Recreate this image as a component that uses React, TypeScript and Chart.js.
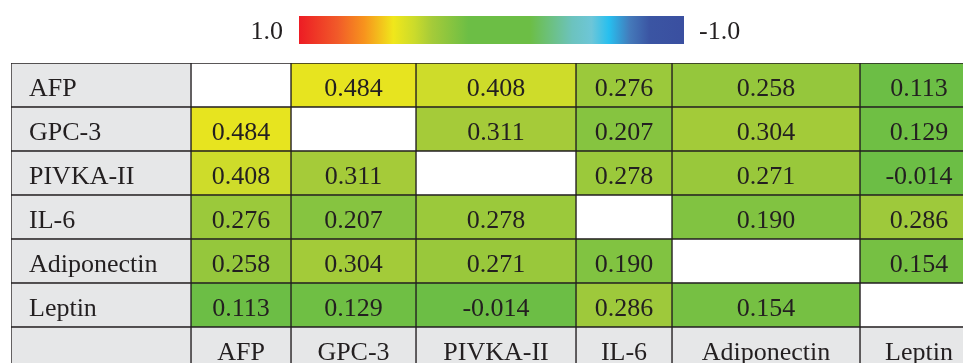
import { useEffect, useRef } from 'react';
import { Chart, registerables } from 'chart.js';

Chart.register(...registerables);

// ---- data ----
const markers = ['AFP', 'GPC-3', 'PIVKA-II', 'IL-6', 'Adiponectin', 'Leptin'];
const rowAFP = [null, 0.484, 0.408, 0.276, 0.258, 0.113];
const rowGPC3 = [0.484, null, 0.311, 0.207, 0.304, 0.129];
const rowPIVKA = [0.408, 0.311, null, 0.278, 0.271, -0.014];
const rowIL6 = [0.276, 0.207, 0.278, null, 0.19, 0.286];
const rowAdipo = [0.258, 0.304, 0.271, 0.19, null, 0.154];
const rowLeptin = [0.113, 0.129, -0.014, 0.286, 0.154, null];
const matrix: (number | null)[][] = [rowAFP, rowGPC3, rowPIVKA, rowIL6, rowAdipo, rowLeptin];
const scaleMax = 1.0;
const scaleMin = -1.0;
const scaleLabels = ['1.0', '-1.0'];

// ---- layout / style ----
const COL_WIDTHS = [180, 100, 125, 160, 96, 188, 118];
const EDGES = COL_WIDTHS.reduce((acc: number[], w) => { acc.push(acc[acc.length - 1] + w); return acc; }, [0]);
const HEADER_BG = '#E6E7E8';
const LINE = '#231F20';
const TEXT = '#231F20';
const FONT = "26px 'Liberation Serif'";
const STOPS: [number, string][] = [
  [0, '#ED1C24'],
  [0.1, '#F15A29'],
  [0.17, '#F7941D'],
  [0.245, '#F0E71B'],
  [0.3, '#CBDB2B'],
  [0.345, '#A5CB39'],
  [0.44, '#6CBE45'],
  [0.6, '#6CBE45'],
  [0.71, '#6CC3BE'],
  [0.76, '#6DC6D8'],
  [0.805, '#27BFEF'],
  [0.86, '#4479BA'],
  [0.91, '#3B55A3'],
  [1, '#3A4FA0'],
];

function hex(c: string) {
  return [1, 3, 5].map((i) => parseInt(c.slice(i, i + 2), 16));
}
function colorAt(f: number) {
  f = Math.max(0, Math.min(1, f));
  for (let i = 1; i < STOPS.length; i++) {
    const [f1, c1] = STOPS[i];
    const [f0, c0] = STOPS[i - 1];
    if (f <= f1) {
      const t = f1 === f0 ? 0 : (f - f0) / (f1 - f0);
      const a = hex(c0), b = hex(c1);
      const m = a.map((v, k) => Math.round(v + (b[k] - v) * t));
      return `rgb(${m[0]},${m[1]},${m[2]})`;
    }
  }
  return STOPS[STOPS.length - 1][1];
}
function valueColor(v: number) {
  return colorAt((scaleMax - v) / (scaleMax - scaleMin));
}

const rowKeys = [...markers, 'header'];

function buildDatasets() {
  const sets: any[] = [];
  // row-header column
  sets.push({
    data: rowKeys.map(() => [EDGES[0], EDGES[1]]),
    backgroundColor: rowKeys.map(() => HEADER_BG),
  });
  markers.forEach((_, j) => {
    sets.push({
      data: rowKeys.map(() => [EDGES[j + 1], EDGES[j + 2]]),
      backgroundColor: rowKeys.map((_, i) => {
        if (i >= markers.length) return HEADER_BG;
        const v = matrix[i][j];
        return v == null ? '#FFFFFF' : valueColor(v);
      }),
    });
  });
  return sets.map((s) => ({
    ...s,
    borderColor: LINE,
    borderWidth: 1,
    borderSkipped: false,
    barPercentage: 1,
    categoryPercentage: 1,
    grouped: false,
  }));
}

const cellText = {
  id: 'cellText',
  afterDatasetsDraw(chart: any) {
    const ctx = chart.ctx;
    ctx.save();
    ctx.font = FONT;
    ctx.fillStyle = TEXT;
    ctx.textBaseline = 'alphabetic';
    chart.data.datasets.forEach((_: any, di: number) => {
      const meta = chart.getDatasetMeta(di);
      meta.data.forEach((el: any, ri: number) => {
        const { x, y, base } = el.getProps(['x', 'y', 'base'], true);
        let text = '';
        if (di === 0) {
          text = ri < markers.length ? markers[ri] : '';
          ctx.textAlign = 'left';
          ctx.fillText(text, Math.min(x, base) + 18, y + 11);
        } else {
          if (ri < markers.length) {
            const v = matrix[ri][di - 1];
            text = v == null ? '' : v.toFixed(3);
          } else {
            text = markers[di - 1];
          }
          ctx.textAlign = 'center';
          ctx.fillText(text, (x + base) / 2, y + 11);
        }
      });
    });
    ctx.restore();
  },
};

const colorBar = {
  id: 'colorBar',
  afterDraw(chart: any) {
    const ctx = chart.ctx;
    const x0 = 299, x1 = 684, y0 = 16, y1 = 44;
    ctx.save();
    const g = ctx.createLinearGradient(x0, 0, x1, 0);
    STOPS.forEach(([f, c]) => g.addColorStop(f, c));
    ctx.fillStyle = g;
    ctx.fillRect(x0, y0, x1 - x0, y1 - y0);
    ctx.font = FONT;
    ctx.fillStyle = TEXT;
    ctx.textBaseline = 'alphabetic';
    ctx.textAlign = 'right';
    ctx.fillText(scaleLabels[0], 283, 39);
    ctx.textAlign = 'left';
    ctx.fillText(scaleLabels[1], 699, 39);
    ctx.restore();
  },
};

export default function App() {
  const ref = useRef<HTMLCanvasElement | null>(null);
  useEffect(() => {
    if (!ref.current) return;
    const chart = new Chart(ref.current, {
      type: 'bar',
      data: { labels: rowKeys, datasets: buildDatasets() },
      options: {
        indexAxis: 'y',
        responsive: false,
        maintainAspectRatio: false,
        animation: false,
        layout: { padding: { left: 11, top: 63, right: 2, bottom: 4 } },
        plugins: { legend: { display: false }, tooltip: { enabled: false } },
        scales: {
          x: { type: 'linear', min: 0, max: EDGES[EDGES.length - 1], display: false },
          y: { type: 'category', display: false, offset: true },
        },
      },
      plugins: [cellText, colorBar],
    } as any);
    return () => chart.destroy();
  }, []);
  return (
    <div style={{ position: 'fixed', left: 0, top: 0, width: 963, height: 363, overflow: 'hidden', background: '#fff' }}>
      <canvas ref={ref} width={980} height={375} style={{ display: 'block' }} />
    </div>
  );
}
